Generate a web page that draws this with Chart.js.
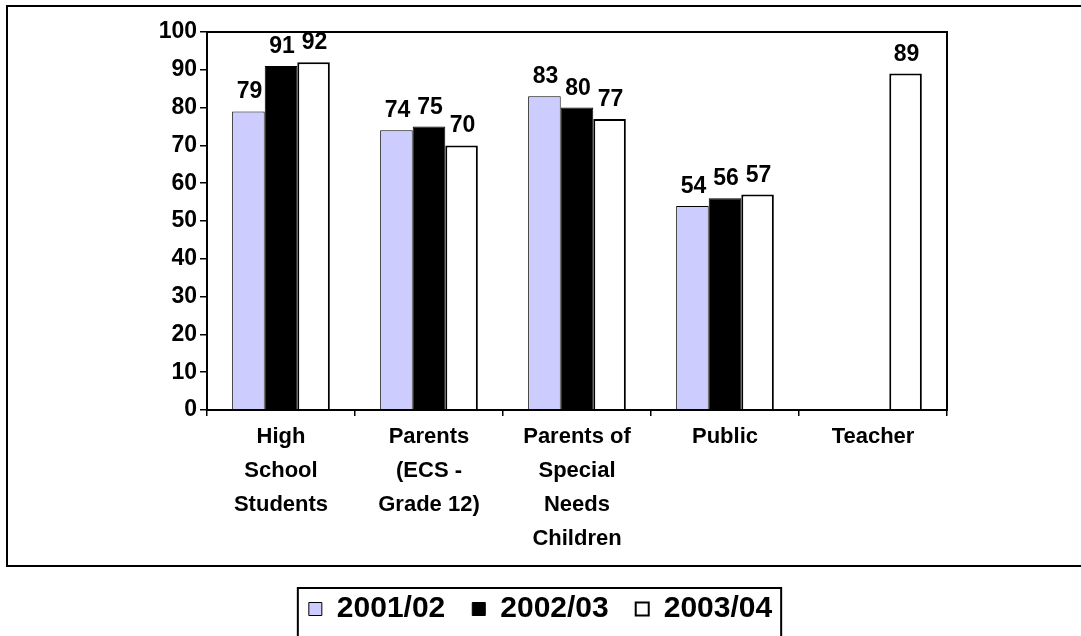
<!DOCTYPE html>
<html>
<head>
<meta charset="utf-8">
<script src="https://cdn.jsdelivr.net/npm/chart.js@4/dist/chart.umd.min.js"></script>
<style>
    html, body { margin: 0; padding: 0; background: #fff; }
    #wrap { width: 1081px; height: 636px; }
</style>
</head>
<body>
<div id="wrap"><canvas id="grafico" width="1081" height="636"></canvas></div>
<script>
const categorias = [
    ['High', 'School', 'Students'],
    ['Parents', '(ECS -', 'Grade 12)'],
    ['Parents of', 'Special', 'Needs', 'Children'],
    ['Public'],
    ['Teacher']
];
const anos = ['2001/02', '2002/03', '2003/04'];
const valores2001 = [79, 74, 83, 54, null];
const valores2002 = [91, 75, 80, 56, null];
const valores2003 = [92, 70, 77, 57, 89];
const ticksY = [0, 10, 20, 30, 40, 50, 60, 70, 80, 90, 100];

const fonte = 'Liberation Sans, Arial, Helvetica, sans-serif';

// rotulos de valor acima das barras
const rotulosPlugin = {
    id: 'rotulos',
    afterDatasetsDraw(chart) {
        const ctx = chart.ctx;
        ctx.save();
        ctx.font = `bold 23px ${fonte}`;
        ctx.fillStyle = '#000';
        ctx.textAlign = 'center';
        ctx.textBaseline = 'alphabetic';
        chart.data.datasets.forEach((ds, i) => {
            chart.getDatasetMeta(i).data.forEach((bar, j) => {
                const v = ds.data[j];
                if (v === null || v === undefined) return;
                ctx.fillText(String(v), bar.x + 1, bar.y - 13);
            });
        });
        ctx.restore();
    }
};

// moldura da area do grafico, borda externa e caixa da legenda
const bordasPlugin = {
    id: 'bordas',
    afterDraw(chart) {
        const ctx = chart.ctx;
        const a = chart.chartArea;
        ctx.save();
        ctx.strokeStyle = '#000';
        ctx.lineWidth = 2;
        ctx.strokeRect(a.left, a.top, a.right - a.left, a.bottom - a.top);
        ctx.strokeRect(7, 6, 1078, 560);

        const boxes = chart.legend.legendHitBoxes;
        if (boxes && boxes.length) {
            const esq = boxes[0].left - 11;
            const dir = boxes[boxes.length - 1].left + boxes[boxes.length - 1].width + 9;
            const topo = boxes[0].top - 6;
            ctx.strokeRect(esq, topo, dir - esq, 80);
        }
        ctx.restore();
    }
};

new Chart(document.getElementById('grafico').getContext('2d'), {
    type: 'bar',
    data: {
        labels: categorias,
        datasets: [
            { label: anos[0], data: valores2001, backgroundColor: '#CCCCFF', borderColor: '#000', borderWidth: 1 },
            { label: anos[1], data: valores2002, backgroundColor: '#000000', borderColor: '#000', borderWidth: 1 },
            { label: anos[2], data: valores2003, backgroundColor: '#FFFFFF', borderColor: '#000', borderWidth: 2 }
        ]
    },
    options: {
        responsive: false,
        animation: false,
        categoryPercentage: 0.66,
        barPercentage: 1.0,
        layout: { padding: { left: 0, right: 0, top: 32, bottom: 2 } },
        plugins: {
            tooltip: { enabled: false },
            legend: {
                position: 'bottom',
                labels: {
                    color: '#000',
                    font: { family: fonte, size: 30, weight: 'bold' },
                    boxWidth: 13,
                    boxHeight: 13,
                    padding: 27
                }
            }
        },
        scales: {
            x: {
                grid: { offset: true, drawOnChartArea: false, drawTicks: true, tickLength: 6, color: '#000', lineWidth: 1.5 },
                border: { display: true, color: '#000', width: 2 },
                ticks: {
                    color: '#000',
                    padding: 4,
                    maxRotation: 0,
                    autoSkip: false,
                    font: { family: fonte, size: 22, weight: 'bold', lineHeight: 1.55 }
                },
                afterFit(scale) { scale.height = 157; }
            },
            y: {
                min: 0,
                max: 100,
                afterBuildTicks(scale) { scale.ticks = ticksY.map(v => ({ value: v })); },
                grid: { drawOnChartArea: false, drawTicks: true, tickLength: 7, color: '#000', lineWidth: 1.5 },
                border: { display: true, color: '#000', width: 2 },
                ticks: {
                    color: '#000',
                    padding: 3,
                    font: { family: fonte, size: 23, weight: 'bold' }
                },
                afterFit(scale) { scale.width = 207; }
            },
            // eixo vazio a direita so para reservar a margem
            margemDireita: {
                position: 'right',
                min: 0,
                max: 100,
                grid: { display: false },
                border: { display: false },
                ticks: { display: false },
                afterFit(scale) { scale.width = 134; }
            }
        }
    },
    plugins: [rotulosPlugin, bordasPlugin]
});
</script>
</body>
</html>
